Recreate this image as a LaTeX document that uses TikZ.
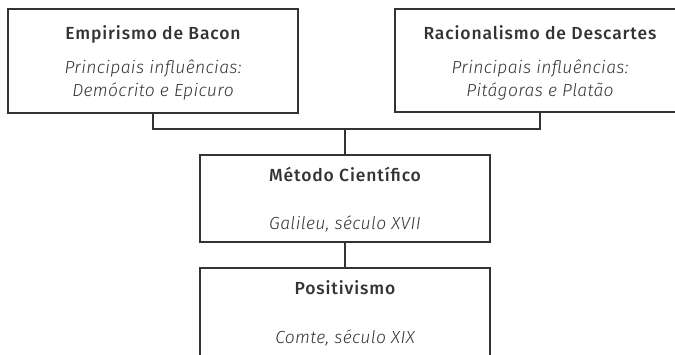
\documentclass[tikz,border=0pt]{standalone}
\usepackage{fontspec}
\setmainfont{Fira Sans}
\newfontfamily\medio[LetterSpace=5]{Fira Sans Medium}
\newfontfamily\leve[LetterSpace=2]{Fira Sans Light}
\usetikzlibrary{positioning}

\definecolor{tinta}{HTML}{333333}

\tikzset{
	caixa/.style = {draw = tinta, line width = 1.3pt, minimum width = 290pt, inner sep = 0pt},
	titulo/.style = {anchor = base, text = tinta, font = \fontsize{17.5}{19}\medio},
	nota/.style = {anchor = base, text = tinta, font = \fontsize{17.5}{19}\leve\itshape},
	liga/.style = {draw = tinta, line width = 1.3pt}
}

\begin{document}
\begin{tikzpicture}[x = 1pt, y = -1pt]
	\clip (0,0) rectangle (675,354);
	
	% caixas
	\node[caixa, minimum height = 104pt] (bacon) at (153,61) {};
	\node[caixa, minimum height = 103pt] (descartes) at (540,60.5) {};
	\node[caixa, minimum height = 87pt] (metodo) at (345,198.5) {};
	\node[caixa, minimum height = 110pt] (positivismo) at (345,323) {};
	
	% textos
	\node[titulo] (baconT) at ([yshift = -31pt]bacon.north) {Empirismo de Bacon};
	\node[nota] (baconA) at ([yshift = -65pt]bacon.north) {Principais influências:};
	\node[nota] (baconB) at ([yshift = -88pt]bacon.north) {Demócrito e Epicuro};
	
	\node[titulo] (descartesT) at ([yshift = -31pt]descartes.north) {Racionalismo de Descartes};
	\node[nota] (descartesA) at ([yshift = -65pt]descartes.north) {Principais influências:};
	\node[nota] (descartesB) at ([yshift = -88pt]descartes.north) {Pitágoras e Platão};
	
	\node[titulo] (metodoT) at ([yshift = -27pt]metodo.north) {Método Científico};
	\node[nota] (metodoA) at ([yshift = -75pt]metodo.north) {Galileu, século XVII};
	
	\node[titulo] (positivismoT) at ([yshift = -27pt]positivismo.north) {Positivismo};
	\node[nota] (positivismoA) at ([yshift = -76pt]positivismo.north) {Comte, século XIX};
	
	% ligacoes
	\coordinate (juncao) at (345,129);
	\draw[liga] (bacon.south) |- (juncao);
	\draw[liga] (descartes.south) |- (juncao);
	\draw[liga] (juncao) -- (metodo.north);
	\draw[liga] (metodo.south) -- (positivismo.north);
	
\end{tikzpicture}
\end{document}
